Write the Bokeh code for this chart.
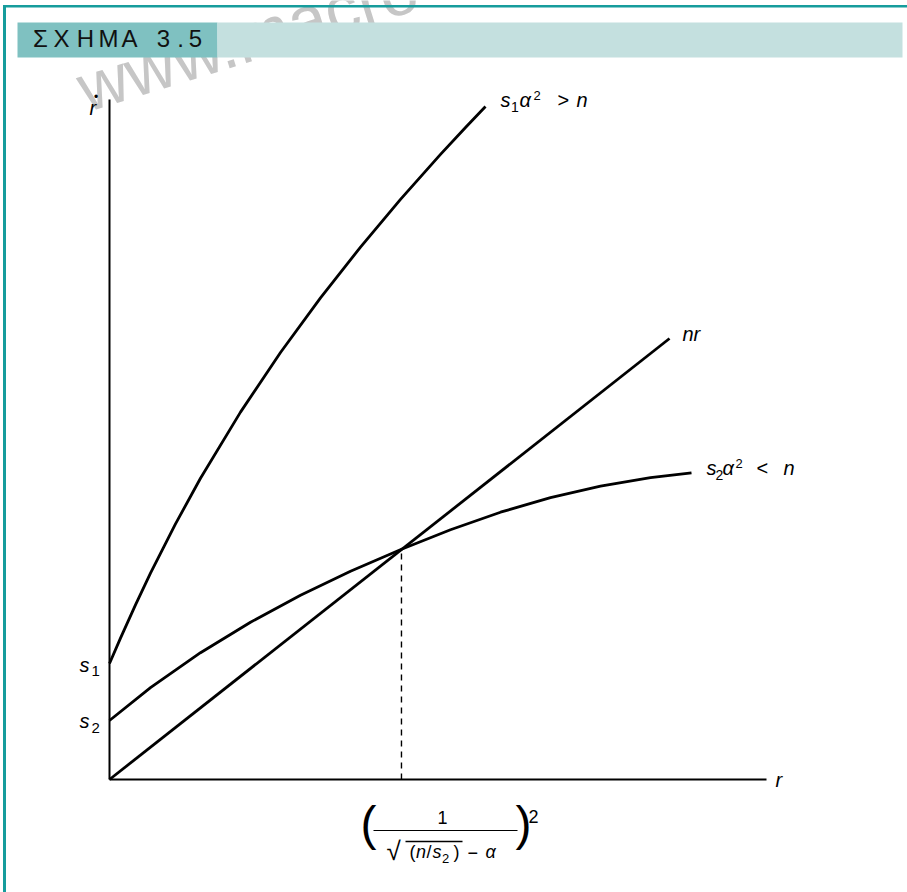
from bokeh.plotting import figure
from bokeh.models import Range1d, ColumnDataSource
from bokeh.core.properties import value
from bokeh.embed import file_html
from bokeh.resources import INLINE

# ---- curve data: r on the horizontal axis, r-dot on the vertical axis ----
# s1 * (1 + a*sqrt(r))^2 with s1*a^2 > n (explosive case)
r_s1 = [0.0, 0.1674, 0.3957, 0.6240, 1.0046, 1.3851, 1.9939, 2.6027, 3.2116, 3.8204, 4.4292, 5.0381, 5.4186, 5.7230]
rdot_s1 = [1.7059, 2.0794, 2.5676, 3.0338, 3.7588, 4.4301, 5.4029, 6.2794, 7.0831, 7.8294, 8.5309, 9.1926, 9.5890, 9.8971]

# s2 * (1 + a*sqrt(r))^2 with s2*a^2 < n (converging case)
r_s2 = [0.0, 0.6240, 1.3851, 2.1461, 2.9072, 3.6682, 4.4444, 5.1903, 5.9513, 6.7123, 7.4734, 8.2344, 8.8584]
rdot_s2 = [0.8676, 1.3500, 1.8647, 2.3132, 2.7103, 3.0632, 3.3853, 3.6735, 3.9309, 4.1441, 4.3132, 4.4382, 4.5103]

# n * r
r_nr = [0.0, 8.524]
rdot_nr = [0.0, 6.485]

# steady state r* = (1 / (sqrt(n/s2) - a))^2
r_star = 4.444
rdot_star = 3.381

axis_r_max = 10.0
axis_rdot_max = 10.0

# ---- page geometry ----
W, H = 907, 892
OX, OY = 109, 779          # pixel position of the origin
KX, KY = 65.7, 68.0        # pixels per unit on each axis
BASE = 0.36                # baseline correction for svg text, in em


def dx(px):
    return (px - OX) / KX


def dy(py):
    return (OY - py) / KY


p = figure(width=W, height=H, output_backend="svg", toolbar_location=None,
           x_range=Range1d(dx(0), dx(W)), y_range=Range1d(dy(H), dy(0)),
           x_axis_type=None, y_axis_type=None, min_border=0)
p.grid.visible = False
p.outline_line_color = None
p.background_fill_color = "white"
p.border_fill_color = "white"

FONT = value("Liberation Sans")

# watermark (sits underneath the header bar)
p.text(x=[dx(79)], y=[dy(89)], text=["www.macro"], angle=0.30,
       text_font=FONT, text_font_size="68px", text_color="#c6c6c6",
       text_baseline="alphabetic", text_align="left")

# frame rules along the left and top edges
TEAL = "#169c9c"
p.quad(left=[dx(2.5), dx(2.5)], right=[dx(5.5), dx(W + 5)],
       top=[dy(4.5), dy(4.5)], bottom=[dy(H + 5), dy(7)],
       fill_color=TEAL, line_color=None)

# header bar
p.quad(left=[dx(17), dx(217)], right=[dx(217), dx(902)],
       top=[dy(22), dy(22)], bottom=[dy(57), dy(57)],
       fill_color=["#7fc1c1", "#c4e0df"], line_color=None)

header_chars = ["Σ", "Χ", "Η", "Μ", "Α", "3", ".", "5"]
header_cx = [40, 61, 85, 108, 129, 163, 180, 195]
p.text(x=[dx(v) for v in header_cx], y=[dy(47 - BASE * 24)] * len(header_chars), text=header_chars,
       text_font=FONT, text_font_size="24px", text_color="#111111",
       text_baseline="alphabetic", text_align="center")

# axes
p.line([0, axis_r_max], [0, 0], line_color="black", line_width=2)
p.line([0, 0], [0, axis_rdot_max], line_color="black", line_width=2)

# curves
for xs, ys in ((r_s1, rdot_s1), (r_s2, rdot_s2), (r_nr, rdot_nr)):
    p.line(xs, ys, line_color="black", line_width=2.8, line_join="round")

# dashed drop line at the steady state
p.line([r_star, r_star], [0, rdot_star], line_color="black", line_width=1.4, line_dash="6 5")

# ---- labels ----
labels = [
    # text, px, baseline py, size, style
    ("r", 89, 115, 20, "italic"),
    ("s", 500, 107, 20, "italic"), ("1", 510.5, 112, 14, "normal"),
    ("α", 519, 107, 20, "italic"), ("2", 533, 100, 13, "normal"),
    (">", 557, 107, 20, "normal"), ("n", 576, 107, 20, "italic"),
    ("nr", 682, 341, 20, "italic"),
    ("s", 706, 475, 20, "italic"), ("2", 715, 480, 14, "normal"),
    ("α", 722, 475, 20, "italic"), ("2", 735, 468, 13, "normal"),
    ("<", 756, 475, 20, "normal"), ("n", 783, 475, 20, "italic"),
    ("r", 775, 787, 20, "italic"),
    ("s", 79, 672, 20, "italic"), ("1", 91, 676, 15, "normal"),
    ("s", 79, 728, 20, "italic"), ("2", 91, 733, 15, "normal"),
    ("(", 360, 840, 48, "normal"), (")", 515, 840, 48, "normal"),
    ("2", 528, 822, 18, "normal"),
    ("1", 437, 823, 18, "normal"),
    ("√", 386, 860, 26, "normal"),
    ("(", 409, 858, 18, "normal"), ("n", 415.5, 858, 18, "italic"),
    ("/", 426, 858, 18, "normal"), ("s", 432, 858, 18, "italic"),
    ("2", 441.5, 863, 13, "normal"), (")", 453, 858, 18, "normal"),
    ("−", 467, 858, 18, "normal"), ("α", 485, 858, 18, "italic"),
]
src = ColumnDataSource(dict(
    x=[dx(l[1]) for l in labels], y=[dy(l[2] - BASE * l[3]) for l in labels],
    text=[l[0] for l in labels], size=[f"{l[3]}px" for l in labels], style=[l[4] for l in labels],
))
p.text(x="x", y="y", text="text", source=src, text_font=FONT, text_font_size="size",
       text_font_style="style", text_color="black", text_baseline="alphabetic", text_align="left")

# dot over the r-dot axis label
p.text(x=[dx(95.5)], y=[dy(101 - BASE * 12)], text=["•"], text_font=FONT, text_font_size="12px",
       text_color="black", text_baseline="alphabetic", text_align="center")

# fraction bar and radical overline
p.segment(x0=[dx(373), dx(405)], y0=[dy(830), dy(841)], x1=[dx(517), dx(462)], y1=[dy(830), dy(841)],
          line_color="black", line_width=[1.2, 1.5])

open("out.html", "w").write(file_html(p, INLINE))
